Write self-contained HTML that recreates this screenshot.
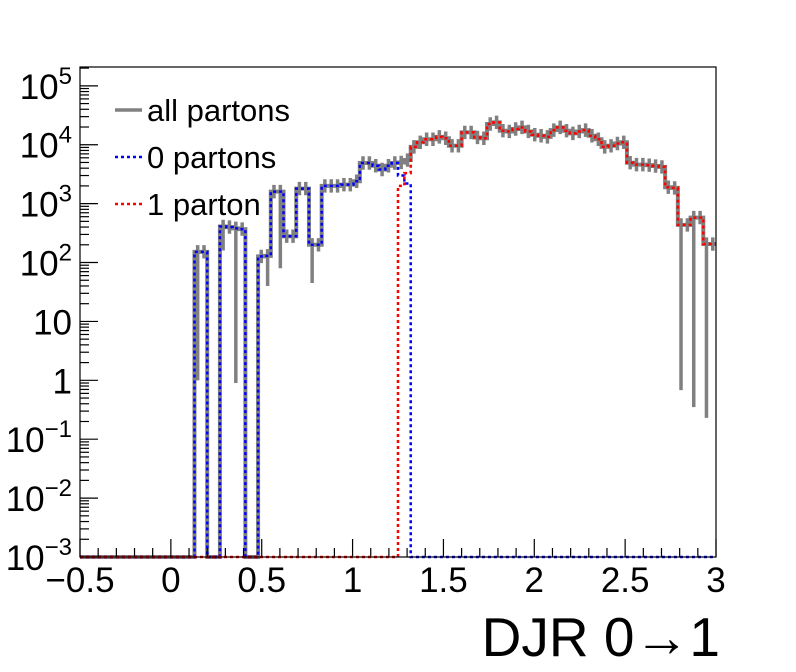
<!DOCTYPE html>
<html><head><meta charset="utf-8"><style>
html,body{margin:0;padding:0;background:#fff;}
svg{display:block;font-family:"Liberation Sans",sans-serif;}
</style></head><body>
<svg id="chart" width="796" height="672" viewBox="0 0 796 672">
<g id="marks"></g>
<rect x="80" y="67" width="636" height="490" fill="none" stroke="#000" stroke-width="1.2"/>
<g id="axes"></g>
<g>
<g><line x1="115" y1="110" x2="142" y2="110" stroke="#808080" stroke-width="3.5"/><text x="147" y="121" font-size="31">all partons</text></g>
<g><line x1="115" y1="157" x2="142" y2="157" stroke="#0000ff" stroke-width="2.5" stroke-dasharray="3,3"/><text x="147" y="168" font-size="31">0 partons</text></g>
<g><line x1="115" y1="204" x2="142" y2="204" stroke="#ff0000" stroke-width="2.5" stroke-dasharray="3,3"/><text x="147" y="215" font-size="31">1 parton</text></g>
</g>
<text x="720" y="656" font-size="55" text-anchor="end">DJR 0→1</text>
</svg>
<script>
const blueValues = [0,0,0,0,0,0,0,0,0,0,0,0,0,0,0,0,0,0,152,152,0,0,410,400,380,370,0,0,127,130,1600,1600,280,280,1800,1800,200,200,2000,2000,2000,2100,2100,2400,4900,4900,4400,3800,4400,4900,3000,2200,0,0,0,0,0,0,0,0,0,0,0,0,0,0,0,0,0,0,0,0,0,0,0,0,0,0,0,0,0,0,0,0,0,0,0,0,0,0,0,0,0,0,0,0,0,0,0,0];
const redTail = [9200,11000,12400,12400,13600,12900,9600,9600,16200,16200,13300,12900,22500,24000,17300,16800,18500,19700,16800,14800,14200,13600,17700,19700,17300,15600,16800,17700,14200,12400,9200,9600,10500,11000,4950,4600,4600,4500,4350,4200,1900,1850,435,435,580,580,206,206];
const redHead = [2000,3300];
const lowerErr = {18:1,22:160,24:0.9,31:80,36:45,29:40,94:0.68,96:0.35,98:0.23};
const xTickLabels = ["\u22120.5","0","0.5","1","1.5","2","2.5","3"];
const xTickValues = [-0.5,0,0.5,1,1.5,2,2.5,3];
const yTickLabels = [["10","\u22123"],["10","\u22122"],["10","\u22121"],["1",""],["10",""],["10","2"],["10","3"],["10","4"],["10","5"]];
const yTickExps = [-3,-2,-1,0,1,2,3,4,5];

const NB=100, XMIN=-0.5, XMAX=3, X0=80, X1=716, Y0=557, Y1=67, YMINE=-3, YMAXE=5.32;
const redValues = new Array(NB).fill(0);
redHead.forEach((v,i)=>redValues[50+i]=v);
redTail.forEach((v,i)=>redValues[52+i]=v);
const allValues = blueValues.map((v,i)=>v+redValues[i]);
const sx = v => X0 + (v-XMIN)/(XMAX-XMIN)*(X1-X0);
const sy = v => { if(v<=0) return Y0; let e=Math.log10(v); e=Math.max(YMINE,Math.min(YMAXE,e)); return Y0-(e-YMINE)/(YMAXE-YMINE)*(Y0-Y1); };
const bw=(XMAX-XMIN)/NB;
const NS="http://www.w3.org/2000/svg";
const marks=document.getElementById('marks'), axes=document.getElementById('axes');
function stepPath(vals){
  let d="M"+sx(XMIN)+","+sy(vals[0]);
  for(let i=0;i<NB;i++){
    const y=sy(vals[i]);
    d+=" L"+sx(XMIN+i*bw)+","+y+" L"+sx(XMIN+(i+1)*bw)+","+y;
  }
  return d;
}
function addPath(d,stroke,w,dash,name){
  const p=document.createElementNS(NS,'path');
  p.setAttribute('d',d);p.setAttribute('fill','none');p.setAttribute('stroke',stroke);p.setAttribute('stroke-width',w);
  if(dash)p.setAttribute('stroke-dasharray',dash);
  
  
  marks.appendChild(p);
}
addPath(stepPath(allValues),'#808080',4,null,'series-all-partons');
let ed="";
for(let i=0;i<NB;i++){
  const v=allValues[i]; if(v<=0) continue;
  const xc=sx(XMIN+(i+0.5)*bw);
  const lo=lowerErr[i]!==undefined?lowerErr[i]:v/1.3;
  ed+=" M"+xc+","+sy(lo)+" L"+xc+","+sy(v*1.3);
}
addPath(ed,'#808080',3.5,null,'error-bars-all-partons');
addPath(stepPath(blueValues),'#0000ff',2.5,'3,3','series-0-partons');
addPath(stepPath(redValues),'#ff0000',2.5,'3,3','series-1-parton');
function line(x1,y1,x2,y2,name){
  const l=document.createElementNS(NS,'line');
  l.setAttribute('x1',x1);l.setAttribute('y1',y1);l.setAttribute('x2',x2);l.setAttribute('y2',y2);
  l.setAttribute('stroke','#000');l.setAttribute('stroke-width','1.2');
  
  
  axes.appendChild(l);
}
for(let k=0;k<=35;k++){
  const v=XMIN+k*0.1; const x=sx(v); const major=(k%5===0);
  line(x,Y0,x,Y0-(major?18:9),'x-tick');
}
xTickValues.forEach((v,i)=>{
  const t=document.createElementNS(NS,'text');
  t.setAttribute('x',sx(v));t.setAttribute('y',592);t.setAttribute('font-size','35');t.setAttribute('text-anchor','middle');
  t.textContent=xTickLabels[i];
  
  
  axes.appendChild(t);
});
for(let e=YMINE;e<6;e++){
  for(let m=1;m<10;m++){
    const v=Math.pow(10,e)*m; const le=Math.log10(v); if(le>YMAXE) break;
    const y=sy(v); line(X0,y,X0+(m===1?18:9),y,'y-tick');
  }
}
yTickExps.forEach((e,i)=>{
  const y=sy(Math.pow(10,e));
  const t=document.createElementNS(NS,'text');
  t.setAttribute('x',72);t.setAttribute('y',y+13);t.setAttribute('font-size','35');t.setAttribute('text-anchor','end');
  const base=yTickLabels[i][0], sup=yTickLabels[i][1];
  if(sup){
    const ts=document.createElementNS(NS,'tspan');ts.textContent=base;t.appendChild(ts);
    const tp=document.createElementNS(NS,'tspan');tp.setAttribute('dy','-15');tp.setAttribute('font-size','24');tp.textContent=sup;t.appendChild(tp);
  } else t.textContent=base;
  
  
  axes.appendChild(t);
});
</script>
</body></html>
